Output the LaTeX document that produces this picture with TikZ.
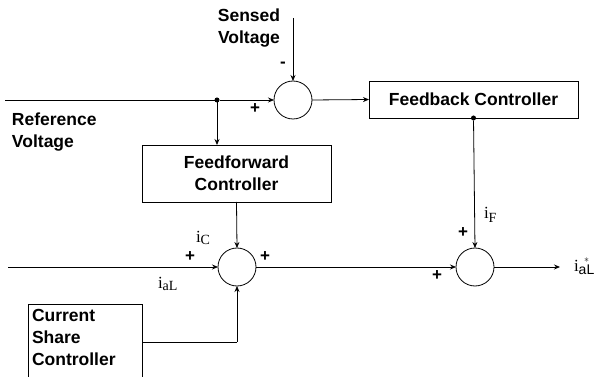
\documentclass[tikz,border=0pt]{standalone}
\usepackage{fontspec}
\setmainfont{Liberation Sans}
\newfontfamily\serifl{Liberation Serif}
\usetikzlibrary{arrows.meta}
\begin{document}
\begin{tikzpicture}[x=1pt,y=-1pt,
  every node/.style={inner sep=0pt,outer sep=0pt},
  lbl/.style={font=\fontsize{17.5}{22}\selectfont\bfseries},
  blk/.style={draw,line width=0.8pt,lbl,align=center},
  sumc/.style={draw,circle,line width=0.8pt,minimum size=38pt},
  sgn/.style={font=\fontsize{17}{17}\selectfont\bfseries},
  cur/.style={font=\fontsize{17}{17}\selectfont\serifl},
  wire/.style={line width=0.8pt},
  arr/.style={wire,-{Stealth[length=6pt,width=5pt]}},
  dotn/.style={circle,fill,minimum size=5pt}]
\useasboundingbox (0,0) rectangle (598,377);
% summing junctions
\node[sumc] (s1) at (293,100) {};
\node[sumc] (s2) at (237,267) {};
\node[sumc] (s3) at (475,267) {};
% blocks
\node[blk,minimum width=209pt,minimum height=37pt] (fb) at (473.5,99.5) {Feedback Controller};
\node[blk,minimum width=189pt,minimum height=57pt] (ff) at (236.5,173.5) {Feedforward\\Controller};
\node[lbl,align=left,anchor=north west] (csc) at (32,309) {Current\\Share\\Controller};
\coordinate (cscbl) at (28,377);
\coordinate (csctl) at (28,304);
\coordinate (csctr) at (142,304);
\coordinate (cscbr) at (142,377);
\draw[wire] (cscbl) -- (csctl) -- (csctr) -- (cscbr);
% texts
\node[lbl,align=center] (sv) at (249,28) {Sensed\\Voltage};
\node[lbl,align=left,anchor=north west] (rv) at (12,113) {Reference\\Voltage};
% coordinates
\coordinate (in1) at (5,100);
\node[dotn] (d1) at (217,100) {};
\coordinate (svtop) at (293,18);
\node[dotn] (d2) at (fb.south) {};
\coordinate (in2) at (8,267);
\coordinate (cscout) at (142,342);
\coordinate (corner) at (237,342);
\coordinate (out) at (560,267);
% connectors
\draw[wire] (in1) -- (d1);
\draw[arr] (d1) -- (s1.west);
\draw[arr] (d1) -- (d1 |- ff.north);
\draw[arr] (svtop) -- (s1.north);
\draw[arr] (s1.east) -- (fb.west);
\draw[arr] (ff.south) -- (s2.north);
\draw[arr] (in2) -- (s2.west);
\draw[wire] (cscout) -- (corner);
\draw[arr] (corner) -- (s2.south);
\draw[arr] (s2.east) -- (s3.west);
\draw[arr] (d2) -- (s3.north);
\draw[arr] (s3.east) -- (out);
% signs
\node[sgn] (m1) at (283,65) {-};
\node[sgn] (p1) at (255,109) {+};
\node[sgn] (p2) at (190,257) {+};
\node[sgn] (p3) at (265,257) {+};
\node[sgn] (p4) at (463,233) {+};
\node[sgn] (p5) at (437,276) {+};
% current labels
\node[cur,anchor=west] (ic) at (196,238) {i\raisebox{-0.35ex}{\fontsize{14}{14}\selectfont C}};
\node[cur,anchor=west] (ial) at (158,284) {i\raisebox{-0.3ex}{\fontsize{14}{14}\selectfont aL}};
\node[cur,anchor=west] (if) at (484,215) {i\raisebox{-0.5ex}{\fontsize{14}{14}\selectfont F}};
\node[cur,anchor=west] (iout) at (574,266) {i\raisebox{-0.4ex}{\fontsize{14}{14}\selectfont $\stackrel{*}{\mathrm{aL}}$}};
\end{tikzpicture}
\end{document}
